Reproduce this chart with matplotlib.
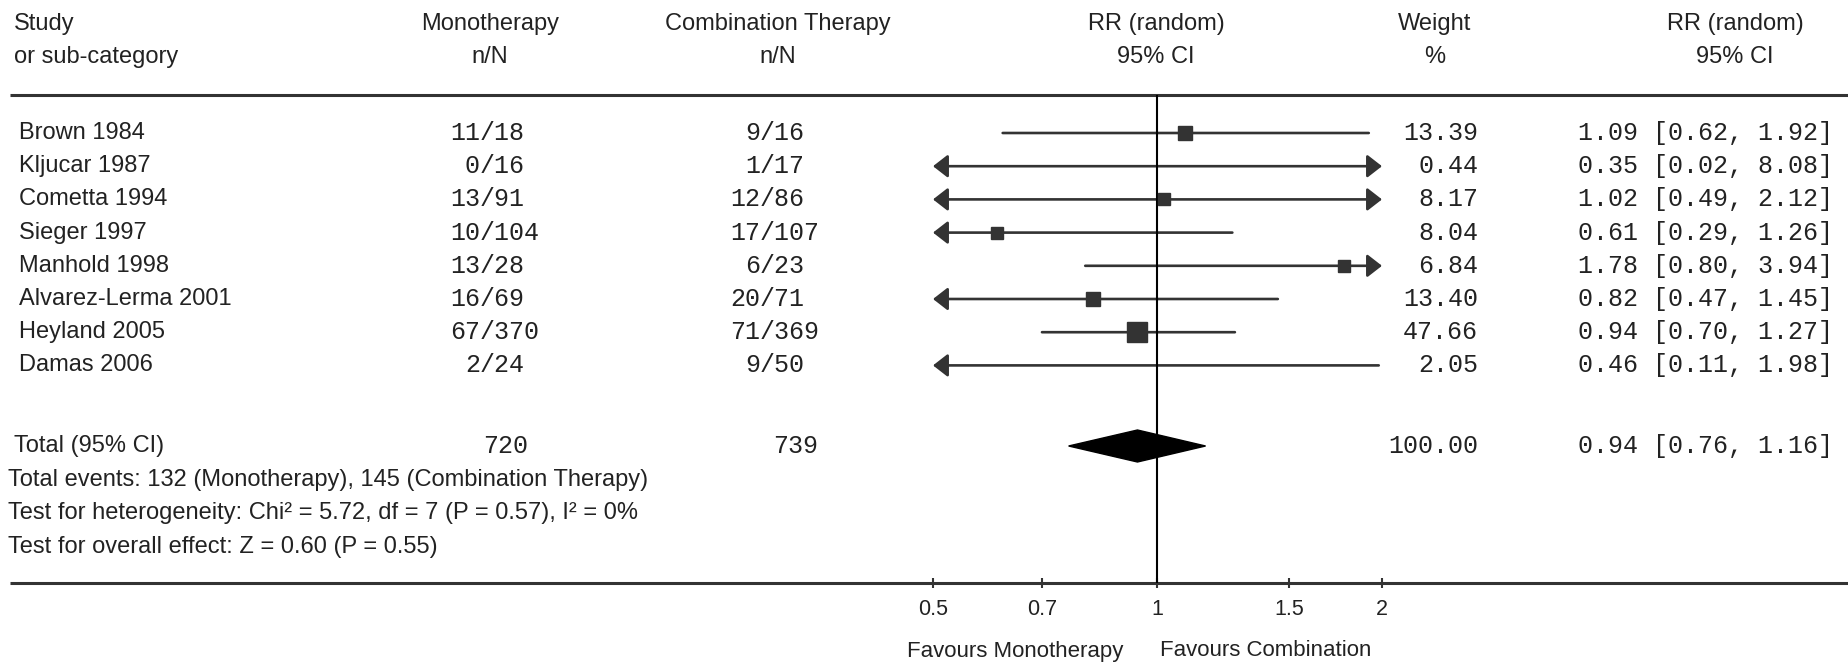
import numpy as np
import matplotlib
matplotlib.use("Agg")
import matplotlib.pyplot as plt

# data
studies = ["Brown 1984", "Kljucar 1987", "Cometta 1994", "Sieger 1997",
           "Manhold 1998", "Alvarez-Lerma 2001", "Heyland 2005", "Damas 2006"]
mono_n = [11, 0, 13, 10, 13, 16, 67, 2]
mono_N = [18, 16, 91, 104, 28, 69, 370, 24]
comb_n = [9, 1, 12, 17, 6, 20, 71, 9]
comb_N = [16, 17, 86, 107, 23, 71, 369, 50]
weight = [13.39, 0.44, 8.17, 8.04, 6.84, 13.40, 47.66, 2.05]
rr = [1.09, 0.35, 1.02, 0.61, 1.78, 0.82, 0.94, 0.46]
ci_lo = [0.62, 0.02, 0.49, 0.29, 0.80, 0.47, 0.70, 0.11]
ci_hi = [1.92, 8.08, 2.12, 1.26, 3.94, 1.45, 1.27, 1.98]

total_mono = 720
total_comb = 739
total_weight = 100.00
total_rr = 0.94
total_lo = 0.76
total_hi = 1.16

footer = ["Total events: 132 (Monotherapy), 145 (Combination Therapy)",
          "Test for heterogeneity: Chi\u00b2 = 5.72, df = 7 (P = 0.57), I\u00b2 = 0%",
          "Test for overall effect: Z = 0.60 (P = 0.55)"]

xticks = [0.5, 0.7, 1, 1.5, 2]
xtick_labels = ["0.5", "0.7", "1", "1.5", "2"]
xmin, xmax = 0.5, 2.0

W, H = 1849, 663
SANS = "Liberation Sans"
MONO = "Liberation Mono"
fs = 17
fs_mono = 18
tc = "#222222"
lc = "#333333"

fig = plt.figure(figsize=(W / 100, H / 100), dpi=100)
fig.patch.set_facecolor("white")

# pixel-space axes for the table part
bg = fig.add_axes([0, 0, 1, 1])
bg.set_xlim(0, W)
bg.set_ylim(H, 0)
bg.axis("off")

# forest axes, log scale
top_px, bot_px = 95, 583
left_px, right_px = 933, 1382
ax = fig.add_axes([left_px / W, (H - bot_px) / H, (right_px - left_px) / W, (bot_px - top_px) / H])
ax.set_xscale("log")
ax.set_xlim(xmin, xmax)
ax.set_ylim(bot_px, top_px)
ax.patch.set_alpha(0)
for s in ax.spines.values():
    s.set_visible(False)
ax.set_yticks([])
ax.set_xticks(xticks)
ax.set_xticklabels(xtick_labels, fontsize=15.5, family=SANS, color=tc)
ax.xaxis.set_minor_locator(matplotlib.ticker.NullLocator())
ax.tick_params(axis="x", direction="inout", length=7, width=1.5, color=lc, pad=8)

row_y = [133 + 33.2 * i for i in range(len(studies))]
total_y = 446

# column anchors
x_mono = 480
x_comb = 760
x_weight = 1478
x_ci = 1578

# header
hdr1, hdr2 = 24, 57
bg.text(14, hdr1, "Study", fontsize=fs, family=SANS, color=tc, va="center")
bg.text(14, hdr2, "or sub-category", fontsize=fs, family=SANS, color=tc, va="center")
for cx, a, b in [(490, "Monotherapy", "n/N"), (778, "Combination Therapy", "n/N"),
                 (1156, "RR (random)", "95% CI"), (1435, "Weight", "%"),
                 (1735, "RR (random)", "95% CI")]:
    bg.text(cx, hdr1, a, fontsize=fs, family=SANS, color=tc, va="center", ha="center")
    bg.text(cx, hdr2, b, fontsize=fs, family=SANS, color=tc, va="center", ha="center")

bg.plot([10, W], [top_px, top_px], color=lc, lw=2.2, solid_capstyle="butt")
bg.plot([10, W], [bot_px, bot_px], color=lc, lw=2.2, solid_capstyle="butt")

# study rows
for i, name in enumerate(studies):
    y = row_y[i]
    bg.text(19, y, name, fontsize=fs, family=SANS, color=tc, va="center")
    bg.text(x_mono, y, str(mono_n[i]), fontsize=fs_mono, family=MONO, color=tc, va="center", ha="right")
    bg.text(x_mono, y, "/" + str(mono_N[i]), fontsize=fs_mono, family=MONO, color=tc, va="center", ha="left")
    bg.text(x_comb, y, str(comb_n[i]), fontsize=fs_mono, family=MONO, color=tc, va="center", ha="right")
    bg.text(x_comb, y, "/" + str(comb_N[i]), fontsize=fs_mono, family=MONO, color=tc, va="center", ha="left")
    bg.text(x_weight, y, "%.2f" % weight[i], fontsize=fs_mono, family=MONO, color=tc, va="center", ha="right")
    bg.text(x_ci, y, "%.2f [%.2f, %.2f]" % (rr[i], ci_lo[i], ci_hi[i]),
            fontsize=fs_mono, family=MONO, color=tc, va="center", ha="left")

    lo = max(ci_lo[i], xmin)
    hi = min(ci_hi[i], xmax)
    left_arrow = ci_lo[i] < xmin
    right_arrow = ci_hi[i] > xmax
    if left_arrow and right_arrow:
        style = "<|-|>"
    elif left_arrow:
        style = "<|-"
    elif right_arrow:
        style = "-|>"
    else:
        style = "-"
    ax.annotate("", xy=(hi, y), xytext=(lo, y),
                arrowprops=dict(arrowstyle=style + (",head_length=0.45,head_width=0.35" if style != "-" else ""),
                                mutation_scale=20, lw=1.9, color=lc, shrinkA=0, shrinkB=0))
    if xmin <= rr[i] <= xmax:
        sz = (7.3 + 1.7 * np.sqrt(weight[i])) * 0.72
        ax.plot(rr[i], y, marker="s", ms=sz, color=lc, mec=lc, zorder=4)

# total row
bg.text(14, total_y, "Total (95% CI)", fontsize=fs, family=SANS, color=tc, va="center")
bg.text(528, total_y, str(total_mono), fontsize=fs_mono, family=MONO, color=tc, va="center", ha="right")
bg.text(818, total_y, str(total_comb), fontsize=fs_mono, family=MONO, color=tc, va="center", ha="right")
bg.text(x_weight, total_y, "%.2f" % total_weight, fontsize=fs_mono, family=MONO, color=tc, va="center", ha="right")
bg.text(x_ci, total_y, "%.2f [%.2f, %.2f]" % (total_rr, total_lo, total_hi),
        fontsize=fs_mono, family=MONO, color=tc, va="center", ha="left")
dh = 16
ax.fill([total_lo, total_rr, total_hi, total_rr], [total_y, total_y - dh, total_y, total_y + dh],
        color="black", zorder=4)

for j, line in enumerate(footer):
    bg.text(8, 480 + 33.5 * j, line, fontsize=fs, family=SANS, color=tc, va="center")

ax.axvline(1, color="black", lw=1.5, zorder=3)

bg.text(1123, 651, "Favours Monotherapy", fontsize=16, family=SANS, color=tc, va="center", ha="right")
bg.text(1160, 651, "Favours Combination", fontsize=16, family=SANS, color=tc, va="center", ha="left")

fig.savefig("out.png", dpi=100, facecolor="white")
